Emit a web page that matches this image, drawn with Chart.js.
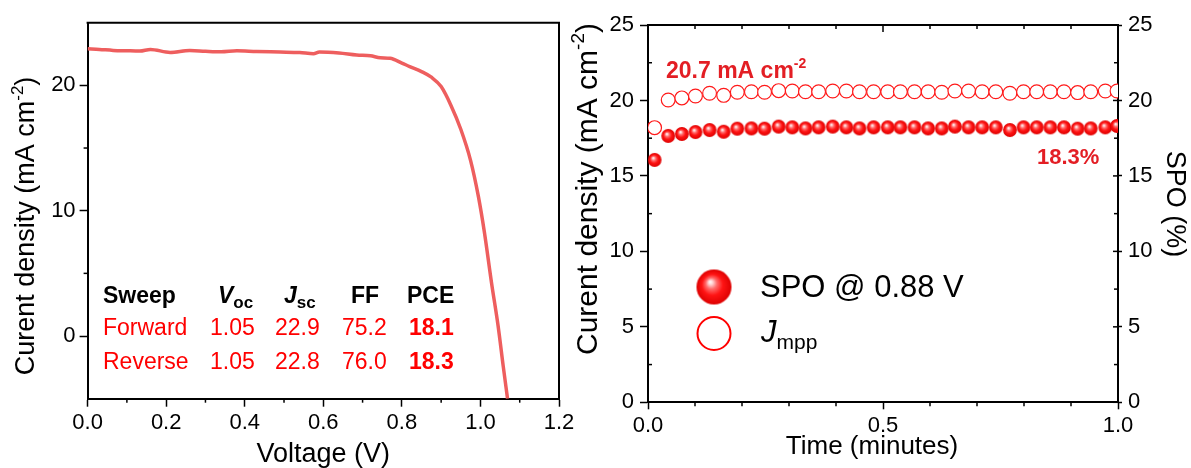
<!DOCTYPE html>
<html><head><meta charset="utf-8">
<script src="https://cdn.jsdelivr.net/npm/chart.js@4.4.0/dist/chart.umd.min.js"></script>
<style>
html,body{margin:0;padding:0;background:#fff;}
#wrap{position:relative;width:1191px;height:468px;overflow:hidden;background:#fff;}
#c1{position:absolute;left:0;top:0;}
#c2{position:absolute;left:570px;top:0;}
</style></head><body>
<div id="wrap">
<canvas id="c1" width="590" height="468"></canvas>
<canvas id="c2" width="621" height="468"></canvas>
</div>
<script>
// ---------- Left panel: J-V curve ----------
const voltage = [0, 0.03, 0.065, 0.1, 0.133, 0.16, 0.21, 0.26, 0.3, 0.34, 0.38, 0.43, 0.49, 0.54, 0.575, 0.59, 0.64, 0.685, 0.72, 0.745, 0.77, 0.8, 0.82, 0.85, 0.875, 0.9, 0.925, 0.95, 0.975, 0.995, 1.01, 1.028, 1.045, 1.058, 1.069];
const currentDensity = [22.92, 22.87, 22.79, 22.76, 22.74, 22.87, 22.63, 22.78, 22.72, 22.68, 22.76, 22.7, 22.66, 22.62, 22.53, 22.66, 22.58, 22.42, 22.36, 22.2, 22.16, 21.78, 21.5, 21.1, 20.65, 19.9, 18.4, 16.5, 14.0, 11.1, 8.3, 4.3, 0.8, -2.4, -5.0];
const jvXTicks = [0, 0.2, 0.4, 0.6, 0.8, 1.0, 1.2];
const jvXMinor = [0.1, 0.3, 0.5, 0.7, 0.9, 1.1];
const jvYTicks = [0, 10, 20];
const jvYMinor = [5, 15];

// table
const tableHeader = ['Sweep', 'V', 'J', 'FF', 'PCE'];
const sweepNames = ['Forward', 'Reverse'];
const vocVals = ['1.05', '1.05'];
const jscVals = ['22.9', '22.8'];
const ffVals = ['75.2', '76.0'];
const pceVals = ['18.1', '18.3'];

// ---------- Right panel: SPO ----------
const timeMin = [0.014, 0.043, 0.072, 0.101, 0.131, 0.161, 0.190, 0.220, 0.248, 0.278, 0.307, 0.335, 0.363, 0.393, 0.422, 0.450, 0.480, 0.510, 0.537, 0.567, 0.596, 0.625, 0.653, 0.682, 0.711, 0.740, 0.770, 0.799, 0.827, 0.856, 0.885, 0.914, 0.942, 0.973, 0.998];
const spoPercent = [16.06, 17.65, 17.78, 17.91, 18.04, 17.93, 18.13, 18.15, 18.13, 18.27, 18.22, 18.15, 18.22, 18.27, 18.22, 18.15, 18.22, 18.22, 18.22, 18.22, 18.15, 18.15, 18.27, 18.22, 18.22, 18.22, 18.04, 18.22, 18.22, 18.22, 18.22, 18.13, 18.15, 18.22, 18.31];
const jmpp = [18.2, 20.03, 20.17, 20.3, 20.48, 20.34, 20.54, 20.58, 20.54, 20.65, 20.63, 20.58, 20.58, 20.63, 20.63, 20.58, 20.58, 20.58, 20.58, 20.58, 20.58, 20.54, 20.63, 20.63, 20.58, 20.58, 20.48, 20.58, 20.58, 20.58, 20.58, 20.52, 20.58, 20.63, 20.63];
const spoXTicks = [0, 0.5, 1.0];
const spoXMinor = [0.1, 0.2, 0.3, 0.4, 0.6, 0.7, 0.8, 0.9];
const spoYTicks = [0, 5, 10, 15, 20, 25];
const spoYMinor = [2.5, 7.5, 12.5, 17.5, 22.5];
const jmppLabel = '20.7 mA cm';
const spoLabel = '18.3%';

const FONT = '"Liberation Sans", Arial, Helvetica, sans-serif';
const F = (size, style) => `${style ? style + ' ' : ''}${size}px ${FONT}`;

function rich(ctx, x, y, parts, opts) {
  opts = opts || {};
  ctx.save();
  ctx.translate(x, y);
  if (opts.rot) ctx.rotate(opts.rot);
  ctx.textBaseline = opts.baseline || 'alphabetic';
  ctx.textAlign = 'left';
  let w = 0;
  parts.forEach(p => { ctx.font = p.f; w += ctx.measureText(p.t).width; });
  let cx = opts.align === 'center' ? -w / 2 : (opts.align === 'right' ? -w : 0);
  parts.forEach(p => {
    ctx.font = p.f;
    ctx.fillStyle = p.c || opts.color || '#000';
    ctx.fillText(p.t, cx, p.dy || 0);
    cx += ctx.measureText(p.t).width;
  });
  ctx.restore();
}

function tick(ctx, edge, pos, len, area) {
  ctx.beginPath();
  if (edge === 'bottom') { ctx.moveTo(pos, area.bottom); ctx.lineTo(pos, area.bottom + len); }
  else if (edge === 'top') { ctx.moveTo(pos, area.top); ctx.lineTo(pos, area.top - len); }
  else if (edge === 'left') { ctx.moveTo(area.left, pos); ctx.lineTo(area.left - len, pos); }
  else { ctx.moveTo(area.right, pos); ctx.lineTo(area.right + len, pos); }
  ctx.stroke();
}

function makeSphere(r) {
  const s = Math.ceil(2 * r + 2);
  const c = document.createElement('canvas');
  c.width = s; c.height = s;
  const g = c.getContext('2d');
  const cx = s / 2, cy = s / 2;
  const grad = g.createRadialGradient(cx - 0.22 * r, cy - 0.3 * r, 0, cx, cy, r);
  grad.addColorStop(0, '#ffffff');
  grad.addColorStop(0.12, '#ffd6d6');
  grad.addColorStop(0.32, '#ff6a6a');
  grad.addColorStop(0.6, '#ff1414');
  grad.addColorStop(1, '#dd0000');
  g.fillStyle = grad;
  g.beginPath(); g.arc(cx, cy, r, 0, Math.PI * 2); g.fill();
  return c;
}
const sphereSmall = makeSphere(6.9);
const sphereBig = makeSphere(17.5);

const axisTickFont = (sz) => ({ size: sz, family: FONT });

// ---------- Left chart ----------
const leftPlugin = {
  id: 'leftDeco',
  afterDraw(chart) {
    const ctx = chart.ctx, a = chart.chartArea;
    const xs = chart.scales.x, ys = chart.scales.y;
    ctx.save();
    ctx.strokeStyle = '#000'; ctx.lineWidth = 2;
    ctx.beginPath();
    ctx.moveTo(a.left - 1, a.top); ctx.lineTo(a.right, a.top); ctx.lineTo(a.right, a.bottom + 1);
    ctx.stroke();
    ctx.lineWidth = 1.5;
    jvXMinor.forEach(v => tick(ctx, 'bottom', xs.getPixelForValue(v), 4, a));
    jvYMinor.forEach(v => tick(ctx, 'left', ys.getPixelForValue(v), 4, a));
    ctx.restore();
    // axis titles
    rich(ctx, 27, 226, [
      { t: 'Curent density (mA cm', f: F(27) },
      { t: '-2', f: F(17), dy: -9 },
      { t: ')', f: F(27) }
    ], { rot: -Math.PI / 2, align: 'center', baseline: 'middle' });
    rich(ctx, (a.left + a.right) / 2, 455, [{ t: 'Voltage (V)', f: F(27) }], { align: 'center', baseline: 'middle' });
    // table
    const colX = [103, 218, 284, 351, 407];
    const hb = 303;
    rich(ctx, colX[0], hb, [{ t: tableHeader[0], f: F(23, 'bold') }]);
    rich(ctx, colX[1], hb, [{ t: tableHeader[1], f: F(23, 'italic bold') }, { t: 'oc', f: F(17, 'bold'), dy: 5 }]);
    rich(ctx, colX[2], hb, [{ t: tableHeader[2], f: F(23, 'italic bold') }, { t: 'sc', f: F(17, 'bold'), dy: 5 }]);
    rich(ctx, colX[3], hb, [{ t: tableHeader[3], f: F(23, 'bold') }]);
    rich(ctx, colX[4], hb, [{ t: tableHeader[4], f: F(23, 'bold') }]);
    const rowB = [335, 369];
    const red = '#ff0000';
    for (let i = 0; i < sweepNames.length; i++) {
      rich(ctx, 103, rowB[i], [{ t: sweepNames[i], f: F(23), c: red }]);
      rich(ctx, 210, rowB[i], [{ t: vocVals[i], f: F(23), c: red }]);
      rich(ctx, 275, rowB[i], [{ t: jscVals[i], f: F(23), c: red }]);
      rich(ctx, 342, rowB[i], [{ t: ffVals[i], f: F(23), c: red }]);
      rich(ctx, 409, rowB[i], [{ t: pceVals[i], f: F(23, 'bold'), c: red }]);
    }
  }
};

new Chart(document.getElementById('c1'), {
  type: 'line',
  data: {
    datasets: [{
      data: voltage.map((v, i) => ({ x: v, y: currentDensity[i] })),
      borderColor: '#ee5e5e', borderWidth: 3.5, pointRadius: 0,
      cubicInterpolationMode: 'monotone', fill: false
    }]
  },
  options: {
    responsive: false, animation: false,
    layout: { padding: { top: 22.7, right: 31, left: 0, bottom: 0 } },
    plugins: { legend: { display: false }, tooltip: { enabled: false } },
    scales: {
      x: {
        type: 'linear', min: 0, max: 1.2,
        afterBuildTicks: s => { s.ticks = jvXTicks.map(v => ({ value: v })); },
        ticks: { callback: v => Number(v).toFixed(1), font: axisTickFont(22), color: '#000', padding: 3, maxRotation: 0, minRotation: 0, autoSkip: false },
        grid: { drawOnChartArea: false, drawTicks: true, tickLength: 8, tickWidth: 1.5, color: '#000' },
        border: { display: true, color: '#000', width: 2 },
        afterFit: s => { s.height = 69.3; s.paddingLeft = 0; s.paddingRight = 0; }
      },
      y: {
        type: 'linear', min: -5, max: 25,
        afterBuildTicks: s => { s.ticks = jvYTicks.map(v => ({ value: v })); },
        ticks: { font: axisTickFont(22), color: '#000', padding: 4 },
        grid: { drawOnChartArea: false, drawTicks: true, tickLength: 8, tickWidth: 1.5, color: '#000' },
        border: { display: true, color: '#000', width: 2 },
        afterFit: s => { s.width = 87.6; s.paddingTop = 0; s.paddingBottom = 0; }
      }
    }
  },
  plugins: [leftPlugin]
});

// ---------- Right chart ----------
const rightPlugin = {
  id: 'rightDeco',
  afterDraw(chart) {
    const ctx = chart.ctx, a = chart.chartArea;
    const xs = chart.scales.x, ys = chart.scales.y;
    ctx.save();
    ctx.strokeStyle = '#000'; ctx.lineWidth = 2;
    ctx.beginPath();
    ctx.moveTo(a.left - 1, a.top); ctx.lineTo(a.right + 1, a.top);
    ctx.stroke();
    ctx.lineWidth = 1.5;
    spoXMinor.forEach(v => tick(ctx, 'bottom', xs.getPixelForValue(v), 4, a));
    spoXMinor.forEach(v => tick(ctx, 'top', xs.getPixelForValue(v), -4, a));
    spoXTicks.forEach(v => tick(ctx, 'top', xs.getPixelForValue(v), -7, a));
    spoYMinor.forEach(v => tick(ctx, 'left', ys.getPixelForValue(v), -4, a));
    spoYMinor.forEach(v => tick(ctx, 'right', ys.getPixelForValue(v), -4, a));
    spoYTicks.forEach(v => tick(ctx, 'right', ys.getPixelForValue(v), -5, a));
    ctx.restore();
    // axis titles
    rich(ctx, 19, 189, [
      { t: 'Curent density (mA cm', f: F(30) },
      { t: '-2', f: F(19), dy: -10 },
      { t: ')', f: F(30) }
    ], { rot: -Math.PI / 2, align: 'center', baseline: 'middle' });
    rich(ctx, 604, 204, [{ t: 'SPO (%)', f: F(27) }], { rot: Math.PI / 2, align: 'center', baseline: 'middle' });
    rich(ctx, 302, 447, [{ t: 'Time (minutes)', f: F(26) }], { align: 'center', baseline: 'middle' });
    // annotations
    const dark = '#e31e24';
    rich(ctx, 96, 78, [{ t: jmppLabel, f: F(23, 'bold'), c: dark }, { t: '-2', f: F(14, 'bold'), c: dark, dy: -10 }]);
    rich(ctx, 467, 164, [{ t: spoLabel, f: F(22, 'bold'), c: dark }]);
    // legend
    ctx.drawImage(sphereBig, 144 - sphereBig.width / 2, 287 - sphereBig.height / 2);
    ctx.save();
    ctx.strokeStyle = '#ff0000'; ctx.lineWidth = 2;
    ctx.beginPath(); ctx.arc(144, 333.5, 16.5, 0, Math.PI * 2); ctx.stroke();
    ctx.restore();
    rich(ctx, 190, 297, [{ t: 'SPO @ 0.88 V', f: F(31) }]);
    rich(ctx, 191, 342, [{ t: 'J', f: F(31, 'italic') }, { t: 'mpp', f: F(21), dy: 7 }]);
  }
};

new Chart(document.getElementById('c2'), {
  type: 'scatter',
  data: {
    datasets: [
      {
        label: 'SPO @ 0.88 V', yAxisID: 'y2',
        data: timeMin.map((t, i) => ({ x: t, y: spoPercent[i] })),
        pointStyle: sphereSmall, pointRadius: 6.9, order: 0, clip: 0
      },
      {
        label: 'Jmpp', yAxisID: 'y',
        data: timeMin.map((t, i) => ({ x: t, y: jmpp[i] })),
        pointStyle: 'circle', pointRadius: 6.9, borderColor: '#ff1a1a', borderWidth: 1.2,
        backgroundColor: '#ffffff', order: 1, clip: 0
      }
    ]
  },
  options: {
    responsive: false, animation: false,
    layout: { padding: { top: 25, right: 0, left: 0, bottom: 0 } },
    plugins: { legend: { display: false }, tooltip: { enabled: false } },
    scales: {
      x: {
        type: 'linear', min: 0, max: 1,
        afterBuildTicks: s => { s.ticks = spoXTicks.map(v => ({ value: v })); },
        ticks: { callback: v => Number(v).toFixed(1), font: axisTickFont(22), color: '#000', padding: 3, maxRotation: 0, minRotation: 0, autoSkip: false },
        grid: { drawOnChartArea: false, drawTicks: true, tickLength: 7, tickWidth: 1.5, color: '#000' },
        border: { display: true, color: '#000', width: 2 },
        afterFit: s => { s.height = 65.7; s.paddingLeft = 0; s.paddingRight = 0; }
      },
      y: {
        type: 'linear', position: 'left', min: 0, max: 25,
        afterBuildTicks: s => { s.ticks = spoYTicks.map(v => ({ value: v })); },
        ticks: { font: axisTickFont(22), color: '#000', padding: 6 },
        grid: { drawOnChartArea: false, drawTicks: true, tickLength: 8, tickWidth: 1.5, color: '#000' },
        border: { display: true, color: '#000', width: 2 },
        afterFit: s => { s.width = 78; s.paddingTop = 0; s.paddingBottom = 0; }
      },
      y2: {
        type: 'linear', position: 'right', min: 0, max: 25,
        afterBuildTicks: s => { s.ticks = spoYTicks.map(v => ({ value: v })); },
        ticks: { font: axisTickFont(22), color: '#000', padding: 6 },
        grid: { drawOnChartArea: false, drawTicks: true, tickLength: 4, tickWidth: 1.5, color: '#000' },
        border: { display: true, color: '#000', width: 2 },
        afterFit: s => { s.width = 73; s.paddingTop = 0; s.paddingBottom = 0; }
      }
    }
  },
  plugins: [rightPlugin]
});
</script>
</body></html>
